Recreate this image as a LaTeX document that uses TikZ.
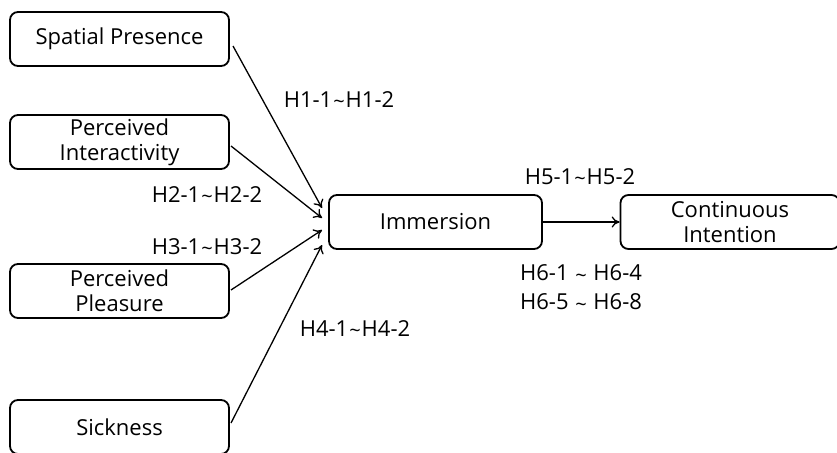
\documentclass[tikz,border=0pt]{standalone}
\usepackage{fontspec}
\setmainfont{Open Sans}
\usetikzlibrary{arrows.meta}
\newcommand{\tld}{\kern1pt\raisebox{-0.1ex}{\fontsize{20}{20}\selectfont\textasciitilde}\kern1pt}
\begin{document}
\begin{tikzpicture}[x=1pt,y=-1pt,
  box/.style={draw,line width=1.8pt,rounded corners=8pt,minimum width=219pt,minimum height=54pt,align=center,inner sep=0pt,font=\fontsize{22}{25}\selectfont},
  lab/.style={font=\fontsize{22}{29}\selectfont,inner sep=0pt,align=center},
  arr/.style={line width=1.3pt,-{To[length=8pt,width=11pt]}}]
\useasboundingbox (0,0) rectangle (837,452);
\node[box] (sp) at (119.5,39) {Spatial Presence};
\node[box] (pi) at (119.5,142) {Perceived\\Interactivity};
\node[box] (pp) at (119.5,291) {Perceived\\Pleasure};
\node[box] (sk) at (119.5,427) {Sickness};
\node[box,minimum width=213pt] (im) at (435.5,222) {Immersion};
\node[box] (ci) at (730,222) {Continuous\\Intention};
\coordinate (a1) at (322,208);
\coordinate (a2) at (322,218);
\coordinate (a3) at (322,230);
\coordinate (a4) at (322,245);
\coordinate (s1) at (233,46);
\coordinate (s2) at (231,146);
\coordinate (s3) at (231,290);
\coordinate (s4) at (231,423);
\draw[arr] (s1) -- (a1);
\draw[arr] (s2) -- (a2);
\draw[arr] (s3) -- (a3);
\draw[arr] (s4) -- (a4);
\draw[arr] (im) -- (ci);
\node[lab] (l1) at (339,100) {H1-1\tld H1-2};
\node[lab] (l2) at (207,195) {H2-1\tld H2-2};
\node[lab] (l3) at (207,247) {H3-1\tld H3-2};
\node[lab] (l4) at (355,329) {H4-1\tld H4-2};
\node[lab] (l5) at (580,177) {H5-1\tld H5-2};
\node[lab] (l6) at (581,288) {H6-1 \tld{} H6-4\\H6-5 \tld{} H6-8};
\end{tikzpicture}
\end{document}
